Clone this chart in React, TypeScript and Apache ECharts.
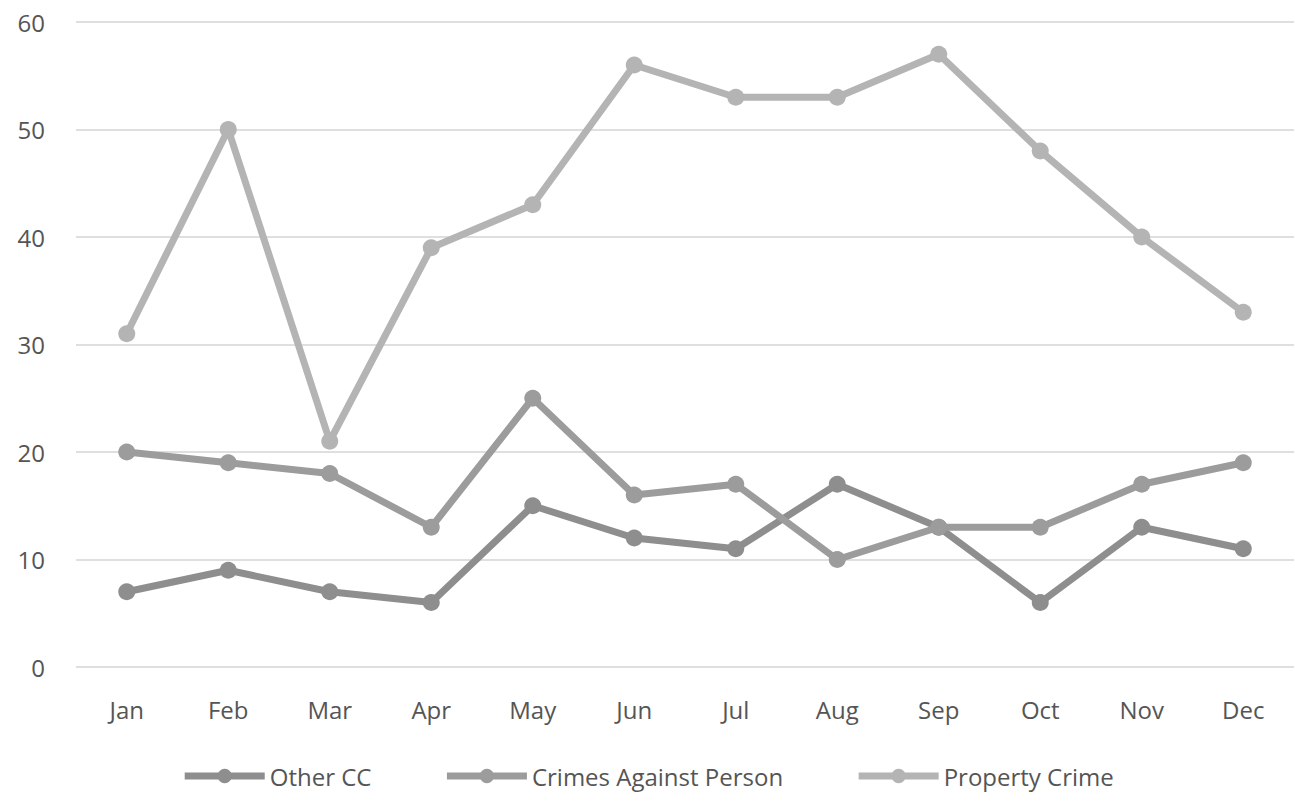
import React, { useEffect, useRef } from "react";
import * as echarts from "echarts";

const months = ["Jan", "Feb", "Mar", "Apr", "May", "Jun", "Jul", "Aug", "Sep", "Oct", "Nov", "Dec"];
const otherCC = [7, 9, 7, 6, 15, 12, 11, 17, 13, 6, 13, 11];
const crimesAgainstPerson = [20, 19, 18, 13, 25, 16, 17, 10, 13, 13, 17, 19];
const propertyCrime = [31, 50, 21, 39, 43, 56, 53, 53, 57, 48, 40, 33];
const seriesNames = ["Other CC", "Crimes Against Person", "Property Crime"];
const seriesColors = ["#8e8e8e", "#9c9c9c", "#b4b4b4"];

export default function App() {
  const ref = useRef<HTMLDivElement>(null);
  useEffect(() => {
    if (!ref.current) return;
    const chart = echarts.init(ref.current, null, { renderer: "svg" });
    const data = [otherCC, crimesAgainstPerson, propertyCrime];
    chart.setOption({
      animation: false,
      backgroundColor: "#ffffff",
      textStyle: { fontFamily: "Open Sans" },
      grid: { left: 76, right: 1, top: 22, bottom: 136 },
      legend: {
        bottom: 10,
        left: "center",
        itemWidth: 80,
        itemHeight: 18,
        itemGap: 72,
        lineStyle: { width: 7 },
        textStyle: { fontSize: 24, color: "#555555", fontFamily: "Open Sans" },
        data: seriesNames,
      },
      xAxis: {
        type: "category",
        data: months,
        boundaryGap: true,
        axisLine: { show: false },
        axisTick: { show: false },
        axisLabel: { fontSize: 24, color: "#555555", margin: 30 },
      },
      yAxis: {
        type: "value",
        min: 0,
        max: 60,
        interval: 10,
        axisLine: { show: false },
        axisTick: { show: false },
        axisLabel: { fontSize: 24, color: "#555555", margin: 31 },
        splitLine: { lineStyle: { color: "#d4d4d4", width: 1.5 } },
      },
      series: seriesNames.map((name, i) => ({
        name,
        type: "line",
        data: data[i],
        symbol: "circle",
        symbolSize: 17,
        lineStyle: { color: seriesColors[i], width: 7 },
        itemStyle: { color: seriesColors[i] },
        z: 2 + i,
      })),
    });
    return () => chart.dispose();
  }, []);
  return <div ref={ref} style={{ position: "fixed", left: 0, top: 0, width: 1295, height: 803 }} />;
}
